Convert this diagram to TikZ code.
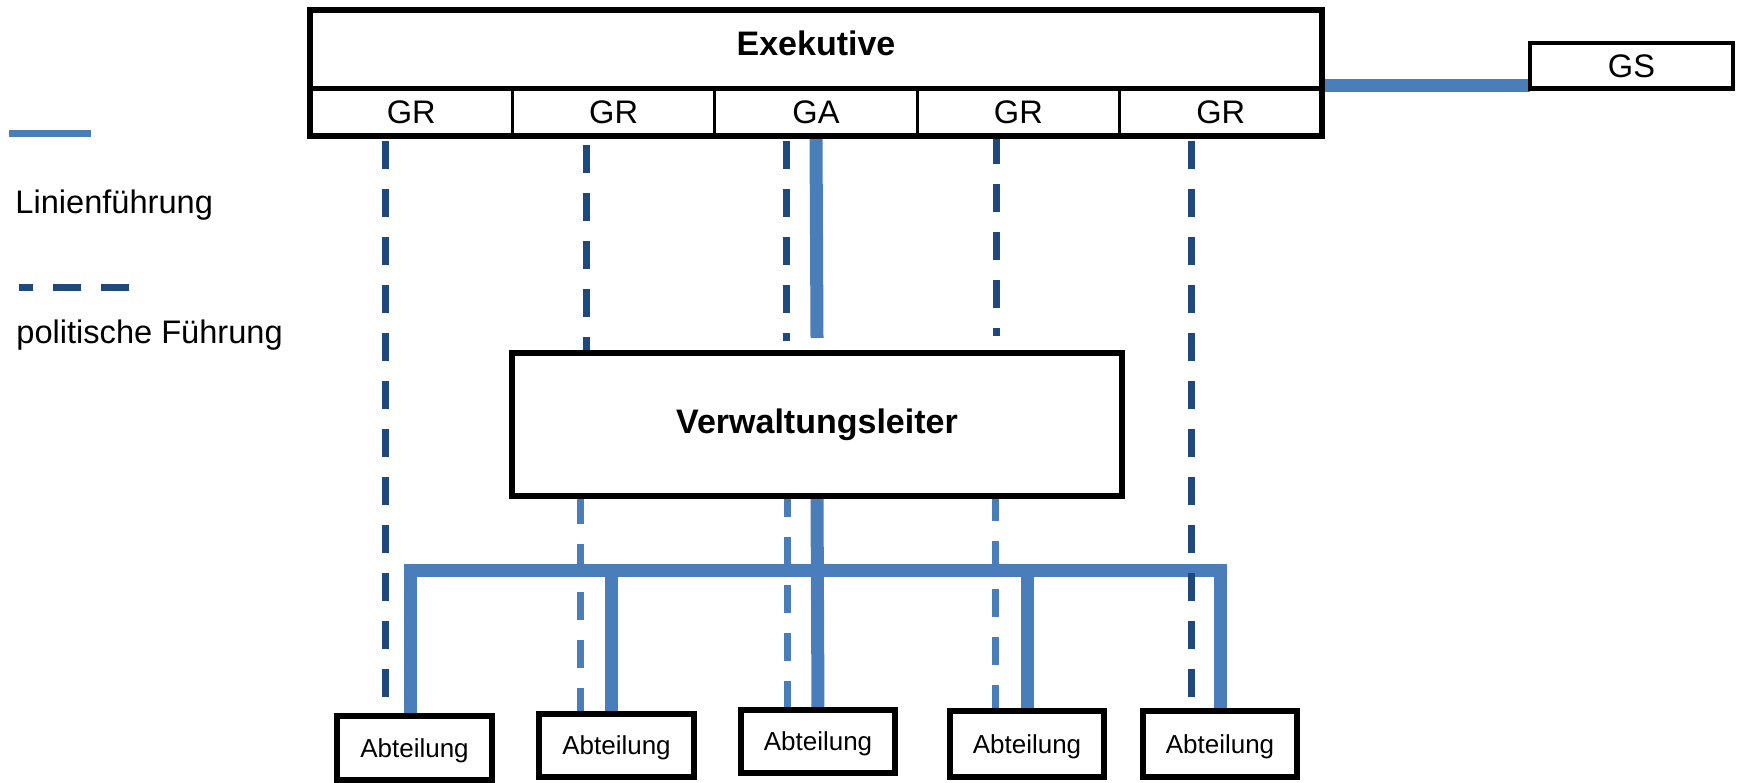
\documentclass[tikz,border=0pt]{standalone}
\usepackage{fontspec}
\setmainfont{Liberation Sans}
\usetikzlibrary{backgrounds}
\definecolor{lineblue}{HTML}{4A7EBB}
\definecolor{polblue}{HTML}{1F497D}
\begin{document}
\begin{tikzpicture}[x=0.5pt,y=-0.5pt,
  boxn/.style={draw=black, fill=white, outer sep=0pt, inner sep=0pt, rectangle},
  linie/.style={draw=lineblue, line width=6.5pt},
  polit/.style={draw=polblue, line width=3.5pt, dash pattern=on 14pt off 10pt},
  politlight/.style={draw=lineblue, line width=3.5pt, dash pattern=on 14pt off 10pt},
  lbl/.style={font=\fontsize{16.3}{19}\selectfont},
  bold/.style={font=\bfseries\fontsize{17}{20}\selectfont},
  cell/.style={boxn, line width=1.4pt, minimum width=101.2pt, minimum height=23.75pt, lbl},
  abt/.style={boxn, line width=3.3pt, minimum width=77.5pt, text depth=0pt, font=\fontsize{13}{15}\selectfont}
]
\useasboundingbox (0,0) rectangle (1739,782);

% Exekutive
\node[cell] (gr1) at (411.2,112.25) {GR};
\node[cell] (gr2) at (613.6,112.25) {GR};
\node[cell] (ga)  at (816,112.25) {GA};
\node[cell] (gr4) at (1018.4,112.25) {GR};
\node[cell] (gr5) at (1220.8,112.25) {GR};
\node[boxn, line width=2.4pt, minimum width=506pt, minimum height=39.25pt] (exe) at (816,49.25) {};
\node[bold, anchor=base, inner sep=0pt] (exetext) at (816,55) {Exekutive};
\draw[line width=3pt] (exe.north west) rectangle (gr5.south east);

% GS
\node[boxn, line width=2.3pt, minimum width=101.5pt, minimum height=22.85pt, lbl] (gs) at (1631.5,65.9) {GS};

% Verwaltungsleiter
\node[boxn, line width=3pt, minimum width=305pt, minimum height=71.5pt, bold] (vl) at (817,424.5) {Verwaltungsleiter};

% Abteilungen
\node[abt, minimum height=32pt] (ab1) at (414.5,748) {Abteilung};
\node[abt, minimum height=31.5pt] (ab2) at (616.5,745.5) {Abteilung};
\node[abt, minimum height=31.5pt, minimum width=77pt] (ab3) at (818,741.5) {Abteilung};
\node[abt, minimum height=33pt, minimum width=77pt] (ab4) at (1027,744) {Abteilung};
\node[abt, minimum height=33pt, minimum width=77pt] (ab5) at (1220,744) {Abteilung};

% Legend
\coordinate (l1a) at (9,133.5);
\coordinate (l1b) at (91,133.5);
\coordinate (l2a) at (19,287.5);
\coordinate (l2b) at (130,287.5);
\draw[lineblue, line width=3.5pt] (l1a) -- (l1b);
\draw[polit, dash phase=7pt] (l2a) -- (l2b);
\node[lbl, anchor=base west, inner sep=0pt] (leg1) at (15,213) {Linienführung};
\node[lbl, anchor=base west, inner sep=0pt] (leg2) at (16,343) {politische Führung};

\coordinate (bus) at (0,570.5);
\coordinate (vlt6) at ([yshift=6pt]vl.north);
\coordinate (vlt85) at ([yshift=8.5pt]vl.north);
\coordinate (ab5t) at ([yshift=7pt]ab5.north);

\begin{pgfonlayer}{background}
  % solid line management
  \draw[linie] ([yshift=-10pt]gs.west) -- ([yshift=-10pt]gs.west -| exe.east);
  \draw[linie] (ga.south) -- ([yshift=7.5pt]vl.north);
  \draw[linie] (vl.south) -- (ab3.north);
  \draw[linie, line join=miter] ([xshift=-2.25pt]ab1.north) -- ([xshift=-2.25pt]ab1.north |- bus) -- (ab5.north |- bus) -- (ab5.north);
  \draw[linie] ([xshift=-2.75pt]ab2.north) -- ([xshift=-2.75pt]ab2.north |- bus);
  \draw[linie] (ab4.north) -- (ab4.north |- bus);
  % political lines
  \draw[polit, dash phase=21.5pt] ([xshift=-13pt]gr1.south) -- ([xshift=-13pt]gr1.south |- ab1.north);
  \draw[polit, dash phase=19.5pt] ([xshift=-13.8pt]gr2.south) -- ([xshift=-13.8pt]gr2.south |- vl.north);
  \draw[polit, dash phase=21.5pt] ([xshift=-15pt]ga.south) -- ([xshift=-15pt]ga.south |- vlt6);
  \draw[polit] ([xshift=-11.2pt]gr4.south) -- ([xshift=-11.2pt]gr4.south |- vlt85);
  \draw[polit, dash phase=21.5pt] ([xshift=-14.9pt]gr5.south) -- ([xshift=-14.9pt]gr5.south |- ab5t);
  \draw[politlight] ([xshift=-18.25pt]ab2.north |- vl.south) -- ([xshift=-18.25pt]ab2.north);
  \draw[politlight, dash phase=3.5pt] ([xshift=-15.5pt]ab3.north |- vl.south) -- ([xshift=-15.5pt]ab3.north);
  \draw[politlight, dash phase=1.5pt] ([xshift=-16pt]ab4.north |- vl.south) -- ([xshift=-16pt]ab4.north);
\end{pgfonlayer}
\end{tikzpicture}
\end{document}
